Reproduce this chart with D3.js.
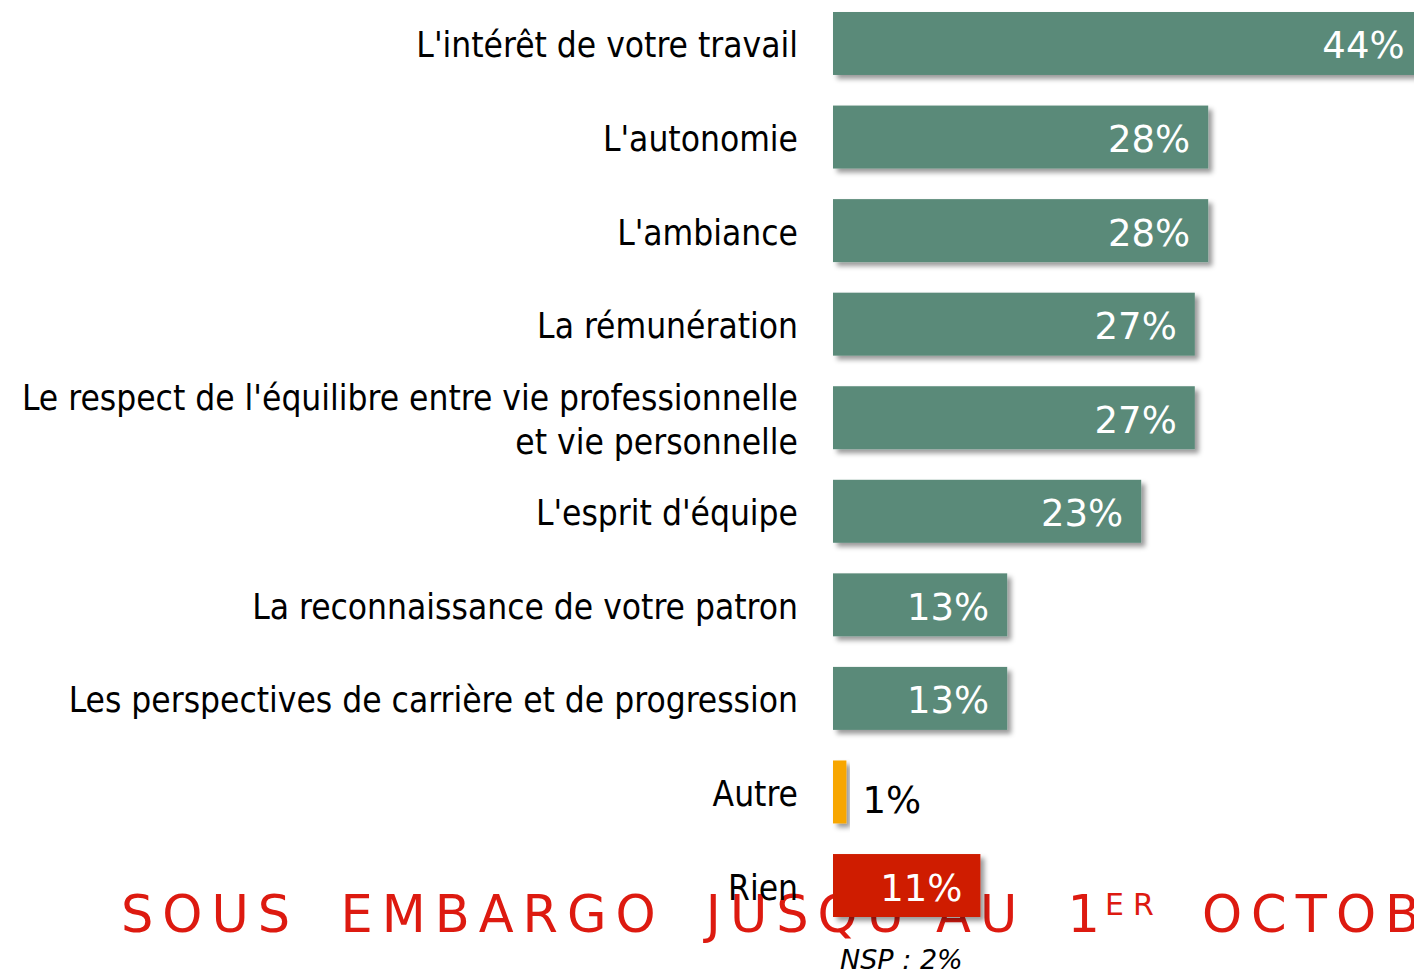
<!DOCTYPE html>
<head>
<meta charset="utf-8">
<script src="https://d3js.org/d3.v7.min.js"></script>
<style>
  body { margin: 0; background: #fff; }
  svg { display: block; }
</style>
</head>
<body>
<div id="vis"></div>
<script>
const categories = [
  "L'intérêt de votre travail",
  "L'autonomie",
  "L'ambiance",
  "La rémunération",
  "Le respect de l'équilibre entre vie professionnelle\net vie personnelle",
  "L'esprit d'équipe",
  "La reconnaissance de votre patron",
  "Les perspectives de carrière et de progression",
  "Autre",
  "Rien"
]
const values = [44, 28, 28, 27, 27, 23, 13, 13, 1, 11]
const nspNote = 'NSP : 2%'
const embargo = ["SOUS EMBARGO JUSQU'AU 1", 'ER', ' OCTOBRE']

const width = 1414
const height = 972
const labelFont = "'DejaVu Sans Condensed', 'DejaVu Sans', sans-serif"
const valueFont = "'DejaVu Sans', sans-serif"

const svg = d3.select('#vis').append('svg')
  .attr('width', width)
  .attr('height', height)

const defs = svg.append('defs')
const shadow = defs.append('filter').attr('id', 'shadow')
  .attr('x', '-10%').attr('y', '-20%').attr('width', '130%').attr('height', '150%')
shadow.append('feDropShadow')
  .attr('dx', 4).attr('dy', 4).attr('stdDeviation', 2.5)
  .attr('flood-color', '#000').attr('flood-opacity', 0.4)

const x = d3.scaleLinear().domain([0, 50]).range([833, 833 + 670])
const y = d3.scaleBand().domain(categories).range([12, 917])
  .paddingInner(0.327).paddingOuter(0)

function barColor (c) {
  if (c === 'Autre') return '#f7a600'
  if (c === 'Rien') return '#cf1d00'
  return '#5a8a79'
}

// watermark behind the bars
const wm = svg.append('text')
  .attr('x', 121)
  .attr('y', 932)
  .attr('fill', '#dd1a10')
  .style('font-family', "'DejaVu Sans', sans-serif")
  .style('font-size', '51px')
  .style('letter-spacing', '9px')
  .style('word-spacing', '16px')
  .style('white-space', 'pre')
wm.append('tspan').text(embargo[0])
wm.append('tspan').attr('dx', -4).attr('dy', -17).style('font-size', '30px').text(embargo[1])
wm.append('tspan').attr('dx', -2).attr('dy', 17).text(embargo[2])

const rows = svg.selectAll('.row')
  .data(categories)
  .enter()
  .append('g')
  .attr('class', 'row')

rows.append('rect')
  .attr('x', x(0))
  .attr('y', d => y(d))
  .attr('width', (d, i) => x(values[i]) - x(0))
  .attr('height', y.bandwidth())
  .attr('fill', d => barColor(d))
  .attr('filter', 'url(#shadow)')

// category labels
rows.each(function (d) {
  const lines = d.split('\n')
  const cy = y(d) + y.bandwidth() / 2
  const t = d3.select(this).append('text')
    .attr('text-anchor', 'end')
    .attr('fill', '#000')
    .style('font-family', labelFont)
    .style('font-size', '35px')
  lines.forEach((line, k) => {
    t.append('tspan')
      .attr('x', 798)
      .attr('y', cy + 14 + (k - (lines.length - 1) / 2) * 44)
      .text(line)
  })
})

// value labels
rows.append('text')
  .attr('x', (d, i) => values[i] < 5 ? x(values[i]) + 16 : x(values[i]) - 18)
  .attr('y', (d, i) => y(d) + y.bandwidth() / 2 + (values[i] < 5 ? 21 : 15))
  .attr('text-anchor', (d, i) => values[i] < 5 ? 'start' : 'end')
  .attr('fill', (d, i) => values[i] < 5 ? '#000' : '#fff')
  .style('font-family', valueFont)
  .style('font-size', '37px')
  .text((d, i) => values[i] + '%')

svg.append('text')
  .attr('x', 840)
  .attr('y', 969)
  .style('font-family', valueFont)
  .style('font-size', '27px')
  .style('font-style', 'italic')
  .text(nspNote)
</script>
</body>
